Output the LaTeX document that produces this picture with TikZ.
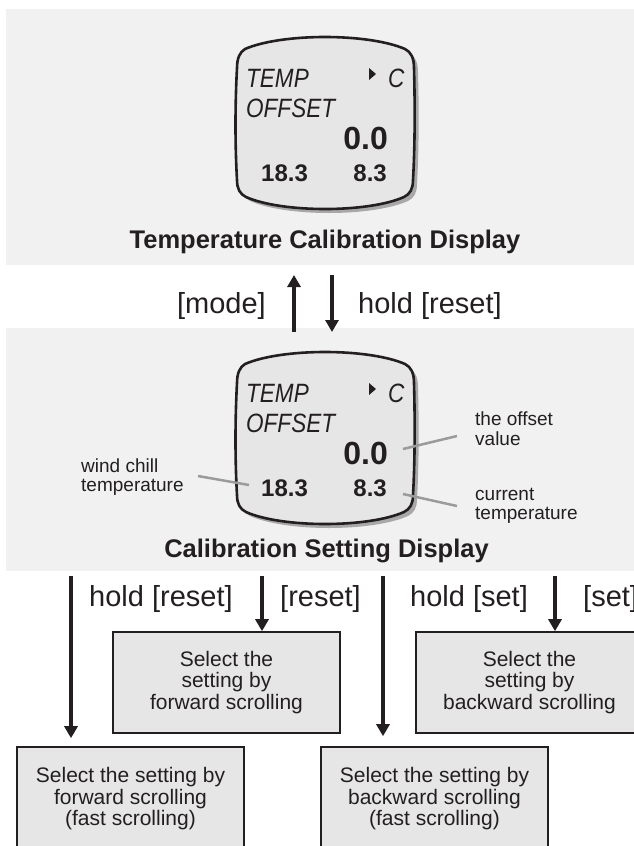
\documentclass[tikz,border=0pt]{standalone}
\usepackage{fontspec}
\setmainfont{Liberation Sans}
\newfontfamily\lcdfont[FakeStretch=0.85]{Liberation Sans}
\usetikzlibrary{arrows.meta}
\definecolor{panelbg}{HTML}{F1F1F1}
\definecolor{lcdfill}{HTML}{E6E6E6}
\definecolor{boxfill}{HTML}{E6E6E6}
\definecolor{leadgray}{HTML}{9B9B9B}
\definecolor{shadowgray}{HTML}{A8A8A8}
\definecolor{ink}{HTML}{231F20}
\begin{document}
\begin{tikzpicture}[x=1pt,y=-1pt,
  panel/.style={fill=panelbg, draw=none},
  arr/.style={draw=ink, line width=4.5pt, -{Triangle[length=12pt,width=13pt]}},
  lead/.style={draw=leadgray, line width=2.5pt},
  keylabel/.style={inner sep=0pt, text=ink, font=\fontsize{29}{34}\selectfont},
  small/.style={inner sep=0pt, text=ink, font=\fontsize{19}{20}\selectfont, anchor=base west},
  title/.style={inner sep=0pt, text=ink, font=\fontsize{25.5}{30}\selectfont\bfseries, anchor=base},
  stepbox/.style={draw=ink, line width=1.6pt, fill=boxfill, minimum width=227pt, align=center, text=ink, font=\fontsize{21}{21.5}\selectfont, inner sep=0pt},
  lcdtxt/.style={inner sep=0pt, text=ink, font=\lcdfont\itshape\fontsize{26.5}{30}\selectfont},
  lcdnum/.style={inner sep=0pt, text=ink, font=\bfseries\fontsize{24}{28}\selectfont},
  lcd/.pic={
    \fill[shadowgray, shift={(4,4)}] (245,49) .. controls (282,33) and (368,33) .. (405,49) .. controls (411,52) and (414,58) .. (414,68) .. controls (415,105) and (415,145) .. (413,180) .. controls (413,189) and (410,194) .. (404,197) .. controls (368,213) and (282,213) .. (246,197) .. controls (240,194) and (237,189) .. (237,180) .. controls (235,145) and (235,105) .. (237,68) .. controls (237,58) and (240,52) .. (245,49) -- cycle;
    \draw[ink, line width=2.6pt, fill=lcdfill] (245,49) .. controls (282,33) and (368,33) .. (405,49) .. controls (411,52) and (414,58) .. (414,68) .. controls (415,105) and (415,145) .. (413,180) .. controls (413,189) and (410,194) .. (404,197) .. controls (368,213) and (282,213) .. (246,197) .. controls (240,194) and (237,189) .. (237,180) .. controls (235,145) and (235,105) .. (237,68) .. controls (237,58) and (240,52) .. (245,49) -- cycle;
    \node[lcdtxt, anchor=base west] (-temp) at (246,87) {TEMP};
    \node[lcdtxt, anchor=base west] (-offset) at (246,117) {OFFSET};
    \fill[ink] (369,68) -- (376,74) -- (369,80) -- cycle;
    \node[lcdtxt, anchor=base west] (-unit) at (388,87) {C};
    \node[inner sep=0pt, text=ink, font=\bfseries\fontsize{32}{36}\selectfont, anchor=base east] (-val) at (388,149) {0.0};
    \node[lcdnum, anchor=base west] (-wc) at (261,181) {18.3};
    \node[lcdnum, anchor=base east] (-cur) at (387,181) {8.3};
  }
]
\useasboundingbox (0,0) rectangle (634,846);
\clip (0,0) rectangle (634,846);
\fill[white] (0,0) rectangle (634,846);

% panels
\path[panel] (6,9) rectangle (634,265);
\path[panel] (6,327.5) rectangle (634,571);

% displays
\pic (d1) at (0,0) {lcd};
\pic (d2) at (0,315) {lcd};

% titles
\node[title] (t1) at (325,248) {Temperature Calibration Display};
\node[title] (t2) at (326.5,557) {Calibration Setting Display};

% mode / hold reset arrows
\node[keylabel, anchor=base east] (lmode) at (266,313) {[mode]};
\node[keylabel, anchor=base west] (lhold) at (358,313) {hold [reset]};
\coordinate (ua) at (294,332);
\coordinate (ub) at (294,275);
\coordinate (da) at (332,275);
\coordinate (db) at (332,332);
\draw[arr] (ua) -- (ub);
\draw[arr] (da) -- (db);

% leader labels
\node[small] (wc1) at (81,472.5) {wind chill};
\node[small] (wc2) at (81,491) {temperature};
\node[small] (ov1) at (475,425) {the offset};
\node[small] (ov2) at (475,445) {value};
\node[small] (ct1) at (475,500) {current};
\node[small] (ct2) at (475,519) {temperature};
\coordinate (wcA) at (198,476);
\coordinate (wcB) at (249,485);
\coordinate (ovA) at (403,449);
\coordinate (ovB) at (457,436);
\coordinate (ctA) at (403,494);
\coordinate (ctB) at (457,506);
\draw[lead] (wcA) -- (wcB);
\draw[lead] (ovA) -- (ovB);
\draw[lead] (ctA) -- (ctB);

% boxes
\node[stepbox, minimum height=101pt] (bA) at (226.5,682.5) {Select the\\setting by\\forward scrolling};
\node[stepbox, minimum height=101pt] (bB) at (529.5,682.5) {Select the\\setting by\\backward scrolling};
\node[stepbox, minimum height=104pt] (bC) at (130.5,799) {Select the setting by\\forward scrolling\\(fast scrolling)};
\node[stepbox, minimum height=104pt] (bD) at (434.5,799) {Select the setting by\\backward scrolling\\(fast scrolling)};

% bottom labels
\node[keylabel, anchor=base west] (l1) at (89,606) {hold [reset]};
\node[keylabel, anchor=base west] (l2) at (280,606) {[reset]};
\node[keylabel, anchor=base west] (l3) at (410,606) {hold [set]};
\node[keylabel, anchor=base west] (l4) at (583,606) {[set]};

% bottom arrows
\coordinate (a1) at (71,576);
\coordinate (a2) at (262,576);
\coordinate (a3) at (383,576);
\coordinate (a4) at (555,576);
\draw[arr, shorten >=8pt] (a1) -- (a1 |- bC.north);
\draw[arr] (a2) -- (a2 |- bA.north);
\draw[arr, shorten >=10pt] (a3) -- (a3 |- bD.north);
\draw[arr] (a4) -- (a4 |- bB.north);
\end{tikzpicture}
\end{document}
